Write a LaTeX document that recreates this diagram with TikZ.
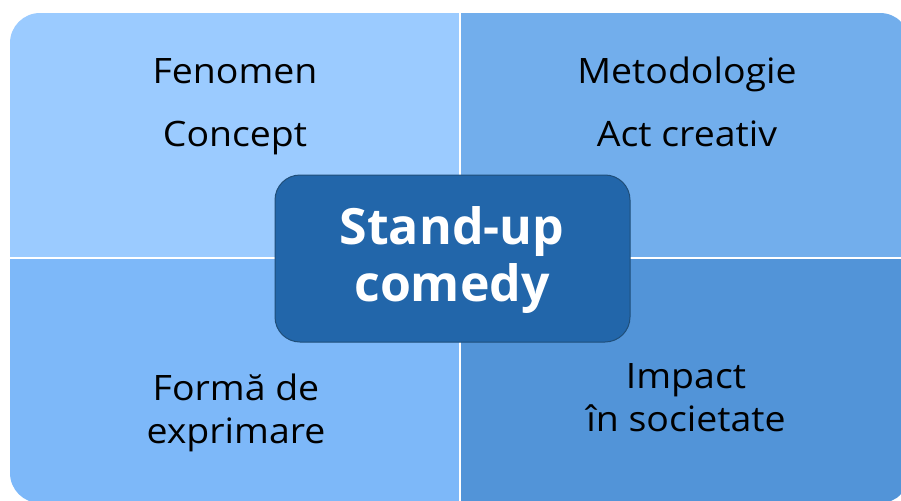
\documentclass[tikz,border=0pt]{standalone}
\usepackage{fontspec}
\setmainfont{Open Sans}
\newfontfamily\widefont[FakeStretch=1.07]{Open Sans}
\definecolor{qtl}{HTML}{9BCBFF}
\definecolor{qtr}{HTML}{72AEEC}
\definecolor{qbl}{HTML}{7DB8F9}
\definecolor{qbr}{HTML}{5294D8}
\definecolor{hub}{HTML}{2266AA}
\definecolor{hubedge}{HTML}{1F4E79}
\begin{document}
\begin{tikzpicture}[x=1pt,y=-1pt,
  qtext/.style={font=\widefont\fontsize{35}{42}\selectfont, text=black, anchor=base, inner sep=0pt},
  hubtext/.style={font=\fontsize{50}{59}\selectfont\bfseries, text=white, anchor=base, inner sep=0pt},
  hubbox/.style={fill=hub, draw=hubedge, line width=1pt, rounded corners=25pt, inner sep=0pt}]
\useasboundingbox (0,0) rectangle (901,500);
\clip (0,0) rectangle (901,500);
\begin{scope}
  \clip[rounded corners=30pt] (10,13) rectangle (910,503);
  \fill[qtl] (10,13) rectangle (460,258);
  \fill[qtr] (460,13) rectangle (910,258);
  \fill[qbl] (10,258) rectangle (460,503);
  \fill[qbr] (460,258) rectangle (910,503);
  \draw[white, line width=1.2pt] (460,13) -- (460,503);
  \draw[white, line width=1.2pt] (10,258) -- (910,258);
\end{scope}
\node[qtext] (fen) at (235,84) {Fenomen};
\node[qtext] (con) at (235,146) {Concept};
\node[qtext] (met) at (687,84) {Metodologie};
\node[qtext] (act) at (687,146) {Act creativ};
\node[qtext] (for) at (236,400) {Formă de};
\node[qtext] (exp) at (236,443) {exprimare};
\node[qtext] (imp) at (686,388) {Impact};
\node[qtext] (soc) at (686,431) {în societate};
\node[hubbox, minimum width=355pt, minimum height=167pt] (hub) at (452.5,258.5) {};
\node[hubtext] (st) at (452,244) {Stand-up};
\node[hubtext] (cm) at (452,301) {comedy};
\end{tikzpicture}
\end{document}
